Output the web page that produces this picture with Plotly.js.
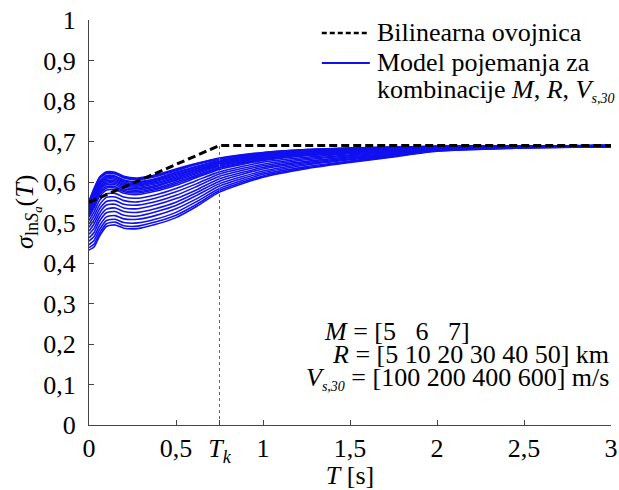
<!DOCTYPE html>
<html>
<head>
<meta charset="utf-8">
<script src="https://cdn.plot.ly/plotly-3.0.1.min.js"></script>
<style>html,body{margin:0;padding:0;background:#fff;}#chart{width:619px;height:490px;}</style>
</head>
<body>
<div id="chart"></div>
<script>
// Period values (s)
const periods = [0, 0.03, 0.06, 0.1, 0.15, 0.2, 0.28, 0.38, 0.5, 0.62, 0.75, 1.0, 1.25, 1.5, 1.75, 2.0, 2.5, 3.0];

// Model curves sigma_lnSa(T) for combinations of M, R, Vs30 (top to bottom)
const curve01 = [0.553, 0.585, 0.612, 0.625, 0.624, 0.614, 0.610, 0.617, 0.632, 0.646, 0.659, 0.673, 0.680, 0.684, 0.686, 0.688, 0.689, 0.690];
const curve02 = [0.551, 0.583, 0.610, 0.623, 0.622, 0.612, 0.608, 0.615, 0.630, 0.645, 0.658, 0.672, 0.680, 0.684, 0.686, 0.688, 0.689, 0.690];
const curve03 = [0.549, 0.581, 0.608, 0.621, 0.620, 0.610, 0.606, 0.613, 0.628, 0.643, 0.656, 0.671, 0.679, 0.683, 0.685, 0.688, 0.689, 0.690];
const curve04 = [0.545, 0.575, 0.602, 0.616, 0.615, 0.605, 0.601, 0.608, 0.624, 0.639, 0.653, 0.669, 0.677, 0.682, 0.684, 0.687, 0.689, 0.690];
const curve05 = [0.543, 0.572, 0.599, 0.613, 0.613, 0.603, 0.599, 0.606, 0.622, 0.637, 0.652, 0.668, 0.676, 0.681, 0.684, 0.687, 0.689, 0.690];
const curve06 = [0.540, 0.569, 0.596, 0.610, 0.610, 0.600, 0.596, 0.604, 0.619, 0.634, 0.650, 0.666, 0.675, 0.680, 0.683, 0.687, 0.688, 0.690];
const curve07 = [0.537, 0.566, 0.593, 0.607, 0.607, 0.597, 0.593, 0.601, 0.616, 0.632, 0.648, 0.665, 0.674, 0.679, 0.683, 0.687, 0.688, 0.690];
const curve08 = [0.534, 0.562, 0.589, 0.603, 0.603, 0.594, 0.590, 0.598, 0.613, 0.629, 0.646, 0.663, 0.673, 0.678, 0.682, 0.686, 0.688, 0.690];
const curve09 = [0.531, 0.559, 0.585, 0.600, 0.600, 0.591, 0.587, 0.595, 0.610, 0.627, 0.644, 0.662, 0.672, 0.677, 0.682, 0.686, 0.688, 0.690];
const curve10 = [0.528, 0.555, 0.581, 0.597, 0.597, 0.587, 0.584, 0.591, 0.607, 0.624, 0.641, 0.660, 0.670, 0.676, 0.681, 0.686, 0.688, 0.689];
const curve11 = [0.524, 0.551, 0.577, 0.593, 0.593, 0.583, 0.580, 0.588, 0.604, 0.621, 0.639, 0.659, 0.669, 0.675, 0.681, 0.686, 0.688, 0.689];
const curve12 = [0.520, 0.546, 0.573, 0.589, 0.589, 0.579, 0.576, 0.584, 0.600, 0.617, 0.636, 0.657, 0.667, 0.674, 0.680, 0.685, 0.688, 0.689];
const curve13 = [0.517, 0.542, 0.569, 0.585, 0.585, 0.576, 0.573, 0.581, 0.596, 0.614, 0.634, 0.655, 0.666, 0.673, 0.679, 0.685, 0.688, 0.689];
const curve14 = [0.513, 0.537, 0.564, 0.580, 0.581, 0.572, 0.569, 0.577, 0.592, 0.611, 0.631, 0.653, 0.665, 0.672, 0.678, 0.684, 0.687, 0.689];
const curve15 = [0.505, 0.527, 0.554, 0.571, 0.572, 0.563, 0.560, 0.568, 0.584, 0.604, 0.625, 0.649, 0.661, 0.670, 0.676, 0.683, 0.687, 0.689];
const curve16 = [0.496, 0.517, 0.543, 0.562, 0.563, 0.554, 0.551, 0.560, 0.576, 0.596, 0.620, 0.644, 0.658, 0.667, 0.675, 0.682, 0.687, 0.689];
const curve17 = [0.488, 0.507, 0.533, 0.552, 0.554, 0.545, 0.543, 0.551, 0.567, 0.589, 0.614, 0.640, 0.655, 0.665, 0.673, 0.682, 0.686, 0.688];
const curve18 = [0.479, 0.497, 0.523, 0.543, 0.545, 0.536, 0.534, 0.543, 0.559, 0.581, 0.608, 0.636, 0.651, 0.662, 0.671, 0.681, 0.686, 0.688];
const curve19 = [0.471, 0.486, 0.513, 0.533, 0.536, 0.527, 0.525, 0.534, 0.550, 0.574, 0.602, 0.632, 0.648, 0.660, 0.670, 0.680, 0.686, 0.688];
const curve20 = [0.462, 0.476, 0.503, 0.524, 0.527, 0.518, 0.516, 0.526, 0.542, 0.567, 0.596, 0.627, 0.645, 0.657, 0.668, 0.679, 0.685, 0.688];
const curve21 = [0.454, 0.466, 0.492, 0.514, 0.517, 0.509, 0.508, 0.517, 0.534, 0.559, 0.590, 0.623, 0.642, 0.655, 0.666, 0.678, 0.685, 0.688];
const curve22 = [0.445, 0.456, 0.482, 0.505, 0.508, 0.500, 0.499, 0.508, 0.525, 0.552, 0.584, 0.619, 0.638, 0.652, 0.665, 0.677, 0.685, 0.687];
const curve23 = [0.438, 0.447, 0.473, 0.497, 0.501, 0.492, 0.491, 0.501, 0.518, 0.545, 0.579, 0.615, 0.635, 0.650, 0.663, 0.677, 0.684, 0.687];
const curve24 = [0.432, 0.440, 0.466, 0.490, 0.494, 0.486, 0.485, 0.495, 0.512, 0.540, 0.575, 0.612, 0.633, 0.648, 0.662, 0.676, 0.684, 0.687];

// Bilinear envelope
const envelopeT = [0, 0.75, 3.0];
const envelopeSigma = [0.55, 0.69, 0.69];

// Corner period Tk
const cornerT = 0.75;
const cornerSigma = 0.69;

// Tick labels
const xTickVals = [0, 0.5, 0.75, 1, 1.5, 2, 2.5, 3];
const xTickText = ['0', '0,5', '<i>T<sub>k</sub></i>', '1', '1,5', '2', '2,5', '3'];
const yTickVals = [0, 0.1, 0.2, 0.3, 0.4, 0.5, 0.6, 0.7, 0.8, 0.9, 1];
const yTickText = ['0', '0,1', '0,2', '0,3', '0,4', '0,5', '0,6', '0,7', '0,8', '0,9', '1'];

// Legend / annotation texts
const VS30 = '<i>V</i><sub><span style="font-size:14px"><i>s,30</i></span></sub>';
const legendEnvelope = 'Bilinearna ovojnica';
const legendModel1 = 'Model pojemanja za';
const legendModel2 = 'kombinacije <i>M</i>, <i>R</i>, ' + VS30;
const noteM = '<i>M</i> = [5\u00A0\u00A0\u00A06\u00A0\u00A0\u00A07]';
const noteR = '<i>R</i> = [5 10 20 30 40 50] km';
const noteV = VS30 + ' = [100 200 400 600] m/s';

const curves = [curve01, curve02, curve03, curve04, curve05, curve06, curve07, curve08,
                curve09, curve10, curve11, curve12, curve13, curve14, curve15, curve16,
                curve17, curve18, curve19, curve20, curve21, curve22, curve23, curve24];

const FONT = 'Liberation Serif';
const FS = 26;
const BLUE = '#1010f0';
const traces = [];

curves.forEach((c) => {
  traces.push({
    x: periods, y: c, type: 'scatter', mode: 'lines',
    line: {color: BLUE, width: 1.6, shape: 'spline', smoothing: 0.6},
    showlegend: false, hoverinfo: 'skip'
  });
});

traces.push({
  x: [cornerT, cornerT], y: [0, cornerSigma], type: 'scatter', mode: 'lines',
  line: {color: '#666', width: 1, dash: 'dot'}, showlegend: false, hoverinfo: 'skip'
});

traces.push({
  x: envelopeT, y: envelopeSigma, type: 'scatter', mode: 'lines',
  line: {color: '#000', width: 3, dash: '8px,4px'},
  showlegend: false, hoverinfo: 'skip'
});

const txt = (s) => ({family: FONT, size: s, color: '#000'});

const layout = {
  width: 619, height: 490,
  margin: {l: 89, r: 8, t: 20, b: 65},
  paper_bgcolor: '#fff', plot_bgcolor: '#fff',
  separators: ', ',
  font: txt(FS),
  showlegend: false,
  xaxis: {
    range: [0, 3], tickmode: 'array', tickvals: xTickVals, ticktext: xTickText,
    ticks: 'inside', ticklen: 5, tickcolor: '#444', showline: true, linecolor: '#444', linewidth: 1,
    showgrid: false, zeroline: false, tickfont: txt(FS),
    title: {text: '<i>T</i> [s]', font: txt(FS), standoff: 10}
  },
  yaxis: {
    range: [0, 1], tickmode: 'array', tickvals: yTickVals, ticktext: yTickText,
    ticks: 'inside', ticklen: 5, tickcolor: '#444', showline: true, linecolor: '#444', linewidth: 1,
    showgrid: false, zeroline: false, tickfont: txt(FS),
    ticklabelstandoff: 7
  },
  shapes: [
    {type: 'line', xref: 'paper', yref: 'paper', x0: 0.446, x1: 0.538, y0: 0.968, y1: 0.968,
     line: {color: '#000', width: 2.5, dash: '5px,3px'}},
    {type: 'line', xref: 'paper', yref: 'paper', x0: 0.446, x1: 0.538, y0: 0.894, y1: 0.894,
     line: {color: BLUE, width: 2}}
  ],
  annotations: [
    {xref: 'paper', yref: 'paper', x: -0.117, y: 0.526, xanchor: 'center', yanchor: 'middle', showarrow: false,
     textangle: -90, text: '<i>σ</i><sub>ln<i>S<sub>a</sub></i></sub>(<i>T</i>)', font: txt(FS)},
    {xref: 'paper', yref: 'paper', x: 0.548, y: 0.968, xanchor: 'left', yanchor: 'middle', showarrow: false,
     text: legendEnvelope, font: txt(FS)},
    {xref: 'paper', yref: 'paper', x: 0.548, y: 0.894, xanchor: 'left', yanchor: 'middle', showarrow: false,
     text: legendModel1, font: txt(FS)},
    {xref: 'paper', yref: 'paper', x: 0.548, y: 0.827, xanchor: 'left', yanchor: 'middle', showarrow: false,
     text: legendModel2, font: txt(FS)},
    {xref: 'paper', yref: 'paper', x: 0.446, y: 0.232, xanchor: 'left', yanchor: 'middle', showarrow: false,
     text: noteM, font: txt(FS)},
    {xref: 'paper', yref: 'paper', x: 1.0, y: 0.173, xanchor: 'right', yanchor: 'middle', showarrow: false,
     text: noteR, font: txt(FS)},
    {xref: 'paper', yref: 'paper', x: 1.0, y: 0.114, xanchor: 'right', yanchor: 'middle', showarrow: false,
     text: noteV, font: txt(FS)}
  ]
};

Plotly.newPlot('chart', traces, layout, {displayModeBar: false, staticPlot: true});
</script>
</body>
</html>
